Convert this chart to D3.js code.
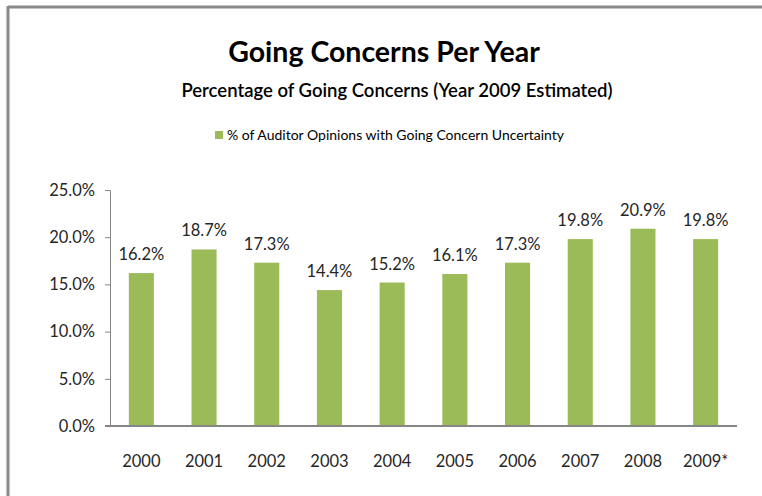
<!DOCTYPE html>
<html>
<head>
<meta charset="utf-8">
<script src="https://cdn.jsdelivr.net/npm/d3@7"></script>
<style>
  html, body { margin: 0; padding: 0; background: #fff; }
  svg { display: block; font-family: Lato, "Open Sans", sans-serif; }
</style>
</head>
<body>
<svg id="chart" width="762" height="496"></svg>
<script>
// Data
const years = ["2000", "2001", "2002", "2003", "2004", "2005", "2006", "2007", "2008", "2009*"];
const goingConcernPct = [16.2, 18.7, 17.3, 14.4, 15.2, 16.1, 17.3, 19.8, 20.9, 19.8];
const yTicks = [0, 5, 10, 15, 20, 25];
const seriesName = "% of Auditor Opinions with Going Concern Uncertainty";
const titleText = "Going Concerns Per Year";
const subtitleText = "Percentage of Going Concerns (Year 2009 Estimated)";

const svg = d3.select("#chart");
const barColor = "#9BBB59";
const axisColor = "#868686";
const labelColor = "#262626";

// Outer frame (top and left edges)
svg.append("line").attr("x1", 8).attr("x2", 762).attr("y1", 7).attr("y2", 7)
  .attr("stroke", "#8a8a8a").attr("stroke-width", 3);
svg.append("line").attr("x1", 8).attr("x2", 8).attr("y1", 6).attr("y2", 496)
  .attr("stroke", "#8a8a8a").attr("stroke-width", 3);

// Titles
svg.append("text").attr("x", 384).attr("y", 62).attr("text-anchor", "middle")
  .attr("font-size", 28.5).attr("font-weight", 700).attr("fill", "#000").text(titleText);
svg.append("text").attr("x", 397).attr("y", 97).attr("text-anchor", "middle")
  .attr("font-size", 18.5).attr("font-weight", 600).attr("fill", "#000").text(subtitleText);

// Legend
const legend = svg.append("g").attr("transform", "translate(215,131)");
legend.append("rect").attr("width", 8).attr("height", 8).attr("fill", barColor);
legend.append("text").attr("x", 12).attr("y", 9).attr("font-size", 14)
  .attr("fill", "#000").text(seriesName);

// Scales
const x = d3.scaleBand().domain(years).range([110, 737]).paddingInner(0.6).paddingOuter(0.3);
const y = d3.scaleLinear().domain([0, 25]).range([426, 190]);

// Y axis
const yAxis = d3.axisLeft(y).tickValues(yTicks).tickSize(5).tickPadding(10)
  .tickFormat(d => d.toFixed(1) + "%");
const gy = svg.append("g").attr("transform", "translate(110,0)").call(yAxis);
gy.select(".domain").attr("stroke", axisColor).attr("d", "M-5,190.5H0.5V426");
gy.selectAll(".tick line").attr("stroke", axisColor);
gy.selectAll("text").attr("font-size", 16.5).attr("fill", labelColor).attr("font-family", "Lato, sans-serif");

// Bars
svg.append("g").selectAll("rect").data(years).join("rect")
  .attr("x", d => x(d))
  .attr("width", x.bandwidth())
  .attr("y", (d, i) => y(goingConcernPct[i]))
  .attr("height", (d, i) => y(0) - y(goingConcernPct[i]))
  .attr("fill", barColor);

// Value labels
svg.append("g").selectAll("text").data(years).join("text")
  .attr("x", d => x(d) + x.bandwidth() / 2)
  .attr("y", (d, i) => y(goingConcernPct[i]) - 13)
  .attr("text-anchor", "middle")
  .attr("font-size", 16.5).attr("fill", labelColor)
  .text((d, i) => goingConcernPct[i].toFixed(1) + "%");

// X axis
const xAxis = d3.axisBottom(x).tickSize(0).tickPadding(29);
const gx = svg.append("g").attr("transform", "translate(0,426)").call(xAxis);
gx.select(".domain").attr("stroke", axisColor).attr("stroke-width", 2).attr("d", "M105,0H737");
gx.selectAll("text").attr("font-size", 16.5).attr("fill", labelColor).attr("font-family", "Lato, sans-serif");
</script>
</body>
</html>
